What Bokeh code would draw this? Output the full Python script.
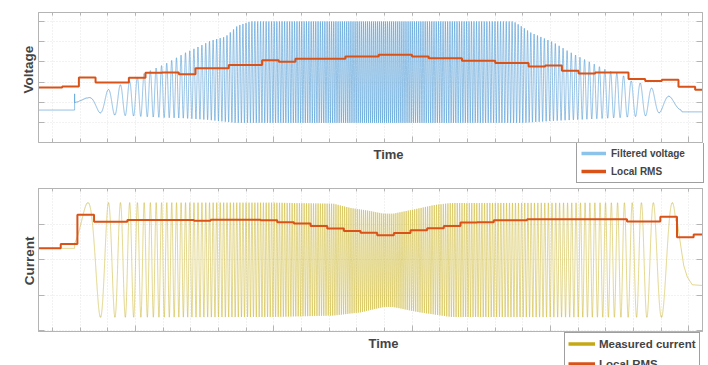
import numpy as np
from bokeh.plotting import figure
from bokeh.models import Range1d, FixedTicker, LinearAxis, Legend, LegendItem, Label
from bokeh.layouts import column, row
from bokeh.embed import file_html
from bokeh.resources import INLINE

# ---------------- time axis (one unit per tick mark, labels hidden) ----------------
time_range = (-0.5, 23.5)
time_ticks = list(range(0, 24))
time_major = [3, 8, 13, 18, 23]

# ---------------- chirp: local frequency (cycles per time unit) read from peak spacing ----------------
freq_time = [0.806, 1.276, 1.673, 2.288, 2.667, 3.227, 3.878, 6.083, 8.974, 11.866,
             14.757, 17.648, 19.853, 20.504, 21.082, 21.480, 22.058, 22.456, 22.925]
freq_value = [0.14, 0.69, 1.38, 2.37, 3.07, 4.15, 5.12, 8.02, 11.62, 13.84,
              11.62, 8.02, 5.12, 4.15, 3.07, 2.37, 1.38, 1.10, 0.80]
phase_blend = (10.0, 13.7)   # dense middle part where left/right peak alignment is blended

# ---------------- filtered voltage ----------------
volt_range = (-0.97, 5.44)
volt_ticks = [0, 1, 2, 3, 4, 5]
volt_pre_level = 0.63
volt_start_spike = 1.43
volt_post_level = 0.54
volt_start, volt_end = 0.806, 22.72
volt_first_peak, volt_last_peak = 1.265, 22.31
volt_upper_t = [0.806, 1.276, 1.999, 2.468, 2.830, 3.372, 4.095, 4.817, 5.360, 5.721, 6.263,
                6.697, 7.166, 16.67, 16.92, 17.28, 18.12, 18.62, 19.09, 19.56, 20.07, 20.54,
                20.90, 21.26, 21.70, 22.31, 22.85]
volt_upper = [1.14, 1.23, 1.63, 1.88, 2.07, 2.47, 2.91, 3.46, 3.80, 4.05, 4.25,
              4.79, 5.00, 5.00, 4.79, 4.46, 3.96, 3.55, 3.22, 2.91, 2.57, 2.42,
              2.07, 1.96, 1.69, 1.30, 0.94]
volt_lower_t = [0.806, 1.637, 2.215, 2.721, 4.022, 4.745, 5.613, 6.624, 17.03, 18.12,
                19.35, 20.54, 21.51, 21.98, 22.85]
volt_lower = [0.69, 0.51, 0.39, 0.35, 0.26, 0.23, 0.15, 0.0, 0.0, 0.10,
              0.18, 0.26, 0.35, 0.51, 0.64]
volt_rms = [1.74, 1.74, 1.79, 2.24, 1.99, 1.99, 2.22, 2.47, 2.48, 2.40,
            2.69, 2.69, 2.85, 2.85, 3.08, 3.01, 3.16, 3.16, 3.16, 3.27,
            3.27, 3.36, 3.36, 3.27, 3.19, 3.19, 3.06, 3.06, 2.95, 2.95,
            2.78, 2.83, 2.57, 2.43, 2.48, 2.48, 2.16, 2.06, 2.12, 1.78, 1.63]
volt_rms_start = -0.846
rms_window = 0.602

# ---------------- measured current ----------------
curr_range = (-2.03, 2.01)
curr_ticks = [-2, -1, 0, 1, 2]
curr_pre_level = 0.32
curr_start, curr_end = 0.806, 22.53
curr_first_peak, curr_last_peak = 1.287, 22.41
curr_upper_t = [0.806, 7.99, 10.17, 10.78, 11.38, 11.97, 12.33, 13.20, 13.78, 14.40, 23.5]
curr_upper = [1.61, 1.61, 1.58, 1.46, 1.39, 1.30, 1.30, 1.44, 1.54, 1.60, 1.61]
curr_lower_t = [0.806, 7.99, 10.17, 11.14, 11.97, 12.33, 13.20, 14.40, 23.5]
curr_lower = [-1.63, -1.62, -1.58, -1.49, -1.34, -1.34, -1.48, -1.62, -1.63]
curr_tail_t = [22.59, 22.71, 22.82, 22.95, 23.13, 23.5]
curr_tail = [1.06, 0.41, -0.16, -0.49, -0.71, -0.73]
curr_rms = [0.32, 0.32, 0.44, 1.27, 1.07, 1.07, 1.12, 1.12, 1.12, 1.12,
            1.10, 1.13, 1.13, 1.13, 1.11, 1.06, 1.02, 0.95, 0.88, 0.81,
            0.76, 0.69, 0.75, 0.83, 0.89, 0.95, 1.05, 1.06, 1.11, 1.11,
            1.14, 1.14, 1.14, 1.14, 1.14, 1.14, 1.08, 1.08, 1.21, 0.63, 0.71]
curr_rms_start = -0.90

# ---------------- colours / fonts ----------------
BLUE = "#3d8fd1"
BLUE_KEY = "#8cc3ea"
ORANGE = "#D95319"
YELLOW = "#c9b11e"
YELLOW_KEY = "#c4a814"
FRAME = "#b4b4b4"
FONT = "Liberation Sans"


def chirp(t0, t1, first_peak, last_peak, ut, uv, lt, lv, n=16000):
    t = np.linspace(t0, t1, n)
    f = np.interp(t, freq_time, freq_value)
    cyc = np.concatenate([[0.0], np.cumsum((f[1:] + f[:-1]) / 2 * np.diff(t))])
    c_first = np.interp(first_peak, t, cyc)
    c_last = np.interp(last_peak, t, cyc)
    d = (c_last - c_first) % 1.0
    if d > 0.5:
        d -= 1.0
    w = np.clip((t - phase_blend[0]) / (phase_blend[1] - phase_blend[0]), 0, 1)
    phase = cyc - c_first - w * d
    up = np.interp(t, ut, uv)
    lo = np.interp(t, lt, lv)
    y = (up + lo) / 2 + (up - lo) / 2 * np.cos(2 * np.pi * phase)
    return t, y


def rms_steps(start, values):
    edges = [start + rms_window * k for k in range(len(values) + 1)]
    return edges, list(values) + [values[-1]]


def plot_figure(height, yrange, yticks, top_border):
    p = figure(width=671, height=height, output_backend="svg", toolbar_location=None,
               x_range=Range1d(*time_range), y_range=Range1d(*yrange),
               min_border_left=1, min_border_right=6, min_border_top=top_border,
               min_border_bottom=1, background_fill_color="white", border_fill_color="white")
    p.outline_line_color = FRAME
    bottom = p.below[0]
    left = p.left[0]
    top = LinearAxis()
    right = LinearAxis()
    p.add_layout(top, "above")
    p.add_layout(right, "right")
    for ax in [bottom, top]:
        ax.ticker = FixedTicker(ticks=time_major, minor_ticks=time_ticks)
    for ax in [left, right]:
        ax.ticker = FixedTicker(ticks=yticks)
    for ax in [bottom, left, top, right]:
        ax.major_label_text_color = None
        ax.major_label_text_font_size = "1px"
        ax.major_label_standoff = 0
        ax.axis_label = None
        ax.major_tick_out = 0
        ax.minor_tick_out = 0
        ax.major_tick_in = 6
        ax.minor_tick_in = 4
        ax.axis_line_color = FRAME
        ax.major_tick_line_color = FRAME
        ax.minor_tick_line_color = FRAME
    top.major_tick_in = 3
    top.minor_tick_in = 3
    p.xgrid.ticker = FixedTicker(ticks=time_ticks)
    p.ygrid.ticker = FixedTicker(ticks=yticks)
    for g in [p.xgrid[0], p.ygrid[0]]:
        g.grid_line_color = "#e4e4e4"
        g.grid_line_dash = "1 2"
        g.grid_line_width = 1
    return p


def blank(width, height):
    b = figure(width=width, height=height, output_backend="svg", toolbar_location=None,
               x_range=Range1d(0, width), y_range=Range1d(0, height),
               x_axis_location=None, y_axis_location=None,
               min_border=0, outline_line_color=None,
               background_fill_color="white", border_fill_color="white")
    b.grid.visible = False
    return b


def key(fig, color):
    # off-canvas stand-in used only to draw the legend sample line
    return fig.line([-20, -10], [-20, -20], line_color=color, line_width=3.5)


# ================= voltage =================
p1 = plot_figure(143, volt_range, volt_ticks, 12)
vt, vy = chirp(volt_start, volt_end, volt_first_peak, volt_last_peak,
               volt_upper_t, volt_upper, volt_lower_t, volt_lower)
volt_t = np.concatenate([[time_range[0], volt_start, volt_start], vt, [volt_end + 0.04, time_range[1]]])
volt_y = np.concatenate([[volt_pre_level, volt_pre_level, volt_start_spike], vy,
                         [volt_post_level, volt_post_level]])
p1.line(volt_t, volt_y, line_color=BLUE, line_alpha=0.55, line_width=1)
ve, vv = rms_steps(volt_rms_start, volt_rms)
p1.step(ve, vv, mode="after", line_color=ORANGE, line_width=2)

lab1 = blank(37, 143)
lab1.add_layout(Label(x=28, y=80.3, text="Voltage", angle=np.pi / 2, text_align="center",
                      text_baseline="middle", text_font=FONT, text_font_style="bold",
                      text_font_size="13.5px"))

foot1 = blank(708, 41)
k1 = key(foot1, BLUE_KEY)
k2 = key(foot1, ORANGE)
foot1.add_layout(Legend(items=[LegendItem(label="Filtered voltage", renderers=[k1]),
                               LegendItem(label="Local RMS", renderers=[k2])],
                        location=(576, 1), orientation="vertical",
                        label_text_font=FONT, label_text_font_style="bold",
                        label_text_font_size="10px",
                        glyph_width=25, glyph_height=14, label_height=14, label_width=88,
                        label_standoff=5, padding=4, spacing=4, margin=0,
                        border_line_color="#404040", border_line_width=1,
                        background_fill_color="white", background_fill_alpha=1), "center")
foot1.add_layout(Label(x=388, y=30, text="Time", text_align="center", text_baseline="middle",
                       text_font=FONT, text_font_style="bold", text_font_size="13px"))

# ================= current =================
p2 = plot_figure(148, curr_range, curr_ticks, 4)
ct, cy = chirp(curr_start, curr_end, curr_first_peak, curr_last_peak,
               curr_upper_t, curr_upper, curr_lower_t, curr_lower)
curr_t = np.concatenate([[time_range[0], curr_start], ct, curr_tail_t])
curr_y = np.concatenate([[curr_pre_level, curr_pre_level], cy, curr_tail])
p2.line(curr_t, curr_y, line_color=YELLOW, line_alpha=0.5, line_width=1)
ce, cv = rms_steps(curr_rms_start, curr_rms)
p2.step(ce, cv, mode="after", line_color=ORANGE, line_width=2)

lab2 = blank(37, 148)
lab2.add_layout(Label(x=28.7, y=73, text="Current", angle=np.pi / 2, text_align="center",
                      text_baseline="middle", text_font=FONT, text_font_style="bold",
                      text_font_size="13.5px"))

foot2 = blank(708, 33)
k3 = key(foot2, YELLOW_KEY)
k4 = key(foot2, ORANGE)
foot2.add_layout(Legend(items=[LegendItem(label="Measured current", renderers=[k3]),
                               LegendItem(label="Local RMS", renderers=[k4])],
                        location=(564, -10), orientation="vertical",
                        label_text_font=FONT, label_text_font_style="bold",
                        label_text_font_size="11.5px",
                        glyph_width=27, glyph_height=15, label_height=15,
                        label_standoff=4, padding=3, spacing=5, margin=0,
                        border_line_color="#404040", border_line_width=1,
                        background_fill_color="white", background_fill_alpha=1), "center")
foot2.add_layout(Label(x=383, y=22, text="Time", text_align="center", text_baseline="middle",
                       text_font=FONT, text_font_style="bold", text_font_size="13px"))

layout = column(row(lab1, p1, spacing=0), foot1, row(lab2, p2, spacing=0), foot2, spacing=0)
open("out.html", "w").write(file_html(layout, INLINE))
